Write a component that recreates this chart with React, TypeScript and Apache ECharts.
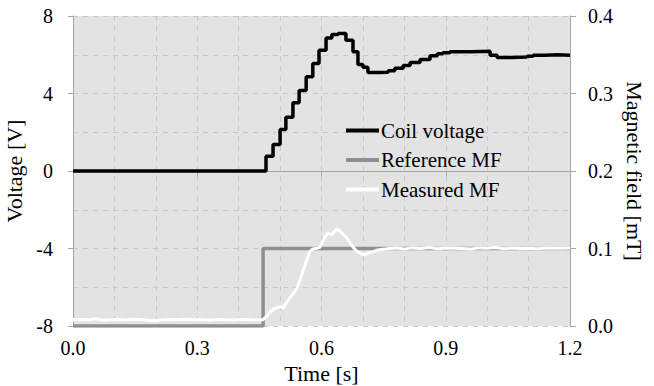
import React, { useEffect, useRef } from "react";
import * as echarts from "echarts";

const xTicks = { min: 0, max: 1.2, interval: 0.3 };
const leftTicks = { min: -8, max: 8, interval: 4 };
const rightTicks = { min: 0, max: 0.4, interval: 0.1 };

const seriesNames = ["Coil voltage", "Reference MF", "Measured MF"];

const coilVoltage: [number, number][] = [
  [0, 0], [0.466, 0.76], [0.483, 1.37], [0.5, 2.14], [0.514, 2.78], [0.531, 3.52],
  [0.546, 4.15], [0.563, 4.86], [0.579, 5.55], [0.594, 6.23], [0.611, 6.87],
  [0.625, 7.05], [0.64, 7.1], [0.659, 6.75], [0.676, 6.15], [0.688, 5.5],
  [0.7, 5.35], [0.712, 5.08], [0.74, 5.1], [0.761, 5.18], [0.777, 5.3],
  [0.797, 5.45], [0.814, 5.6], [0.838, 5.75], [0.862, 5.95], [0.88, 6.05],
  [0.893, 6.1], [0.91, 6.15], [0.96, 6.18], [1.007, 5.98], [1.024, 5.86],
  [1.06, 5.88], [1.096, 5.92], [1.111, 5.98], [1.14, 6.0], [1.17, 5.97], [1.2, 5.97],
];

const referenceMF: [number, number][] = [
  [0, 0], [0.459, 0], [0.459, 0.1], [1.2, 0.1],
];

const measuredMF: [number, number][] = [
  [0, 0.008], [0.02, 0.0085], [0.04, 0.008], [0.055, 0.0095], [0.07, 0.0075],
  [0.09, 0.008], [0.11, 0.0085], [0.13, 0.0078], [0.15, 0.0088], [0.17, 0.008],
  [0.19, 0.0072], [0.2, 0.0068], [0.21, 0.0078], [0.23, 0.0085], [0.25, 0.008],
  [0.27, 0.0088], [0.29, 0.0078], [0.31, 0.0083], [0.33, 0.0075], [0.35, 0.0086],
  [0.37, 0.008], [0.39, 0.0078], [0.41, 0.0087], [0.43, 0.008], [0.45, 0.0078],
  [0.459, 0.0082], [0.466, 0.012], [0.476, 0.018], [0.486, 0.022], [0.495, 0.024],
  [0.502, 0.025], [0.507, 0.023], [0.512, 0.027], [0.517, 0.031], [0.523, 0.036],
  [0.529, 0.04], [0.535, 0.044], [0.541, 0.049], [0.548, 0.059], [0.556, 0.072],
  [0.564, 0.085], [0.572, 0.096], [0.578, 0.099], [0.584, 0.1], [0.59, 0.1005],
  [0.596, 0.1015], [0.6, 0.106], [0.604, 0.111], [0.61, 0.116], [0.616, 0.12],
  [0.62, 0.119], [0.625, 0.117], [0.63, 0.121], [0.637, 0.125], [0.643, 0.123],
  [0.649, 0.12], [0.655, 0.117], [0.662, 0.113], [0.668, 0.108], [0.676, 0.102],
  [0.684, 0.097], [0.693, 0.094], [0.7, 0.092], [0.705, 0.092], [0.712, 0.094],
  [0.724, 0.096], [0.736, 0.098], [0.749, 0.099], [0.765, 0.1], [0.78, 0.1005],
  [0.8, 0.0995], [0.82, 0.1008], [0.84, 0.1], [0.86, 0.1012], [0.88, 0.0998],
  [0.9, 0.1005], [0.92, 0.1003], [0.94, 0.1], [0.96, 0.0995], [0.98, 0.1008],
  [1.0, 0.1002], [1.02, 0.1012], [1.04, 0.0998], [1.06, 0.1005], [1.08, 0.1],
  [1.1, 0.1003], [1.12, 0.0998], [1.14, 0.1006], [1.16, 0.1002], [1.18, 0.1004],
  [1.2, 0.1005],
];

const FONT = "Liberation Serif";
const AXIS_GRAY = "#a6a6a6";
const GRID_GRAY = "#c9c9c9";

export default function App() {
  const ref = useRef<HTMLDivElement>(null);
  useEffect(() => {
    if (!ref.current) return;
    const chart = echarts.init(ref.current, undefined, { renderer: "svg" });
    const axisLabel = { color: "#000", fontFamily: FONT, fontSize: 20 };
    const nameStyle = { color: "#000", fontFamily: FONT, fontSize: 22 };
    chart.setOption({
      animation: false,
      backgroundColor: "#fff",
      textStyle: { fontFamily: FONT },
      grid: {
        left: 73, right: 84, top: 16, bottom: 60,
        outerBoundsMode: "none",
        containLabel: false,
        show: true, backgroundColor: "#e3e3e3", borderWidth: 0,
      },
      legend: {
        orient: "vertical",
        left: 346,
        top: 120,
        padding: 0,
        itemWidth: 33,
        itemHeight: 4,
        itemGap: 8.5,
        icon: "rect",
        data: seriesNames,
        textStyle: { color: "#000", fontFamily: FONT, fontSize: 21, padding: [0, 0, 0, -3] },
      },
      xAxis: {
        type: "value",
        min: xTicks.min, max: xTicks.max, interval: xTicks.interval,
        name: "Time [s]", nameLocation: "middle", nameGap: 36,
        nameTextStyle: nameStyle,
        axisLine: { show: true, lineStyle: { color: AXIS_GRAY, width: 1 } },
        axisTick: { show: true, length: 5, lineStyle: { color: AXIS_GRAY } },
        axisLabel: { ...axisLabel, margin: 12, formatter: (v: number) => v.toFixed(1) },
        splitLine: { show: true, lineStyle: { color: GRID_GRAY, type: [5, 5] } },
        minorTick: { show: false, splitNumber: 3 },
        minorSplitLine: { show: true, lineStyle: { color: GRID_GRAY, type: [5, 5] } },
      },
      yAxis: [
        {
          type: "value",
          min: leftTicks.min, max: leftTicks.max, interval: leftTicks.interval,
          name: "Voltage [V]", nameLocation: "middle", nameGap: 40,
          nameTextStyle: nameStyle,
          axisLine: { show: true, lineStyle: { color: AXIS_GRAY, width: 1 } },
          axisTick: { show: true, length: 5, lineStyle: { color: AXIS_GRAY } },
          axisLabel: { ...axisLabel, margin: 20 },
          splitLine: { show: true, lineStyle: { color: GRID_GRAY, type: [5, 5] } },
          minorTick: { show: false, splitNumber: 2 },
          minorSplitLine: { show: true, lineStyle: { color: GRID_GRAY, type: [5, 5] } },
        },
        {
          type: "value",
          position: "right",
          min: rightTicks.min, max: rightTicks.max, interval: rightTicks.interval,
          name: "Magnetic field [mT]", nameLocation: "middle", nameGap: 50, nameRotate: -90,
          nameTextStyle: nameStyle,
          axisLine: { show: true, lineStyle: { color: AXIS_GRAY, width: 1 } },
          axisTick: { show: true, length: 6, lineStyle: { color: AXIS_GRAY } },
          axisLabel: { ...axisLabel, margin: 18, formatter: (v: number) => v.toFixed(1) },
          splitLine: { show: false },
        },
      ],
      series: [
        {
          name: seriesNames[0], type: "line", yAxisIndex: 0, step: "end",
          data: coilVoltage, showSymbol: false, z: 4,
          lineStyle: { color: "#000", width: 3.5 }, itemStyle: { color: "#000" },
        },
        {
          name: seriesNames[1], type: "line", yAxisIndex: 1,
          data: referenceMF, showSymbol: false, z: 2,
          lineStyle: { color: "#8f8f8f", width: 3.5 }, itemStyle: { color: "#8f8f8f" },
        },
        {
          name: seriesNames[2], type: "line", yAxisIndex: 1,
          data: measuredMF, showSymbol: false, z: 3,
          lineStyle: { color: "#fff", width: 3 }, itemStyle: { color: "#fff" },
        },
      ],
    });
    return () => chart.dispose();
  }, []);
  return (
    <div
      ref={ref}
      style={{ position: "fixed", left: 0, top: 0, width: 654, height: 386 }}
    />
  );
}
